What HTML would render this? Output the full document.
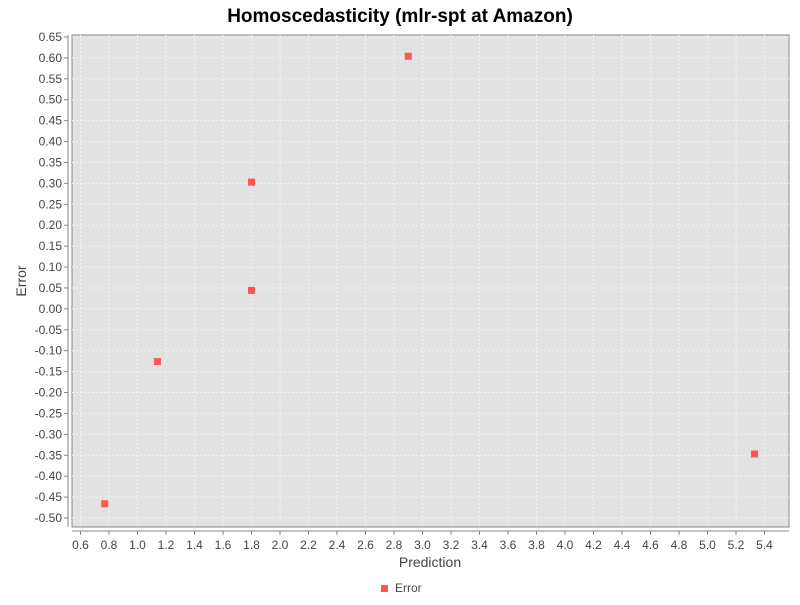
<!DOCTYPE html>
<html><head><meta charset="utf-8"><style>
body{margin:0;background:#fff;font-family:"Liberation Sans",sans-serif}
svg text{font-family:"Liberation Sans",sans-serif}
</style></head><body>
<svg id="chart" width="800" height="600" xmlns="http://www.w3.org/2000/svg">
<text x="400" y="22" text-anchor="middle" font-size="19" font-weight="bold" fill="#000">Homoscedasticity (mlr-spt at Amazon)</text>
<rect x="72" y="35" width="717" height="492" fill="#e2e2e2" stroke="#888"/>
<g id="grid"></g>
<line x1="68" y1="35" x2="68" y2="527" stroke="#888"/>
<line x1="72" y1="531" x2="789" y2="531" stroke="#888"/>
<g id="ticks"></g>
<g id="points"></g>
<text x="430" y="567" text-anchor="middle" font-size="14" fill="#444">Prediction</text>
<text transform="translate(26,281) rotate(-90)" text-anchor="middle" font-size="14" fill="#444">Error</text>
<g>
<rect x="381" y="585" width="7" height="7" fill="#ff5555"/>
<text x="395" y="592" font-size="12" fill="#444">Error</text>
</g>
</svg>
<script>
const predictions=[0.77,1.14,1.80,1.80,2.90,5.33];
const errors=[-0.466,-0.126,0.303,0.044,0.604,-0.347];
const xTicks=[0.6,0.8,1.0,1.2,1.4,1.6,1.8,2.0,2.2,2.4,2.6,2.8,3.0,3.2,3.4,3.6,3.8,4.0,4.2,4.4,4.6,4.8,5.0,5.2,5.4];
const yTicks=[0.65,0.60,0.55,0.50,0.45,0.40,0.35,0.30,0.25,0.20,0.15,0.10,0.05,0.00,-0.05,-0.10,-0.15,-0.20,-0.25,-0.30,-0.35,-0.40,-0.45,-0.50];
const X=v=>80.5+(v-0.6)*(684/4.8);
const Y=v=>37+(0.65-v)*(481/1.15);
const NS="http://www.w3.org/2000/svg";
const grid=document.getElementById('grid'),ticks=document.getElementById('ticks'),pts=document.getElementById('points');
function mk(tag,attrs,parent){const e=document.createElementNS(NS,tag);for(const k in attrs)e.setAttribute(k,attrs[k]);parent.appendChild(e);return e;}
xTicks.forEach(t=>{const x=X(t);
const g=mk('line',{x1:x,x2:x,y1:35,y2:527,stroke:'#f4f4f4','stroke-dasharray':'2,2'},grid);


mk('line',{x1:x,x2:x,y1:531,y2:535,stroke:'#888'},ticks);
const l=mk('text',{x:x,y:549,'text-anchor':'middle','font-size':12,fill:'#444'},ticks);l.textContent=t.toFixed(1);

});
yTicks.forEach(t=>{const y=Y(t);
const g=mk('line',{x1:72,x2:789,y1:y,y2:y,stroke:'#f4f4f4','stroke-dasharray':'2,2'},grid);


mk('line',{x1:64,x2:68,y1:y,y2:y,stroke:'#888'},ticks);
const l=mk('text',{x:62,y:y+4,'text-anchor':'end','font-size':12,fill:'#444'},ticks);l.textContent=t.toFixed(2);

});
predictions.forEach((p,i)=>{const r=mk('rect',{x:X(p)-3.5,y:Y(errors[i])-3.5,width:7,height:7,fill:'#ff5555'},pts);

});
</script>
</body></html>
